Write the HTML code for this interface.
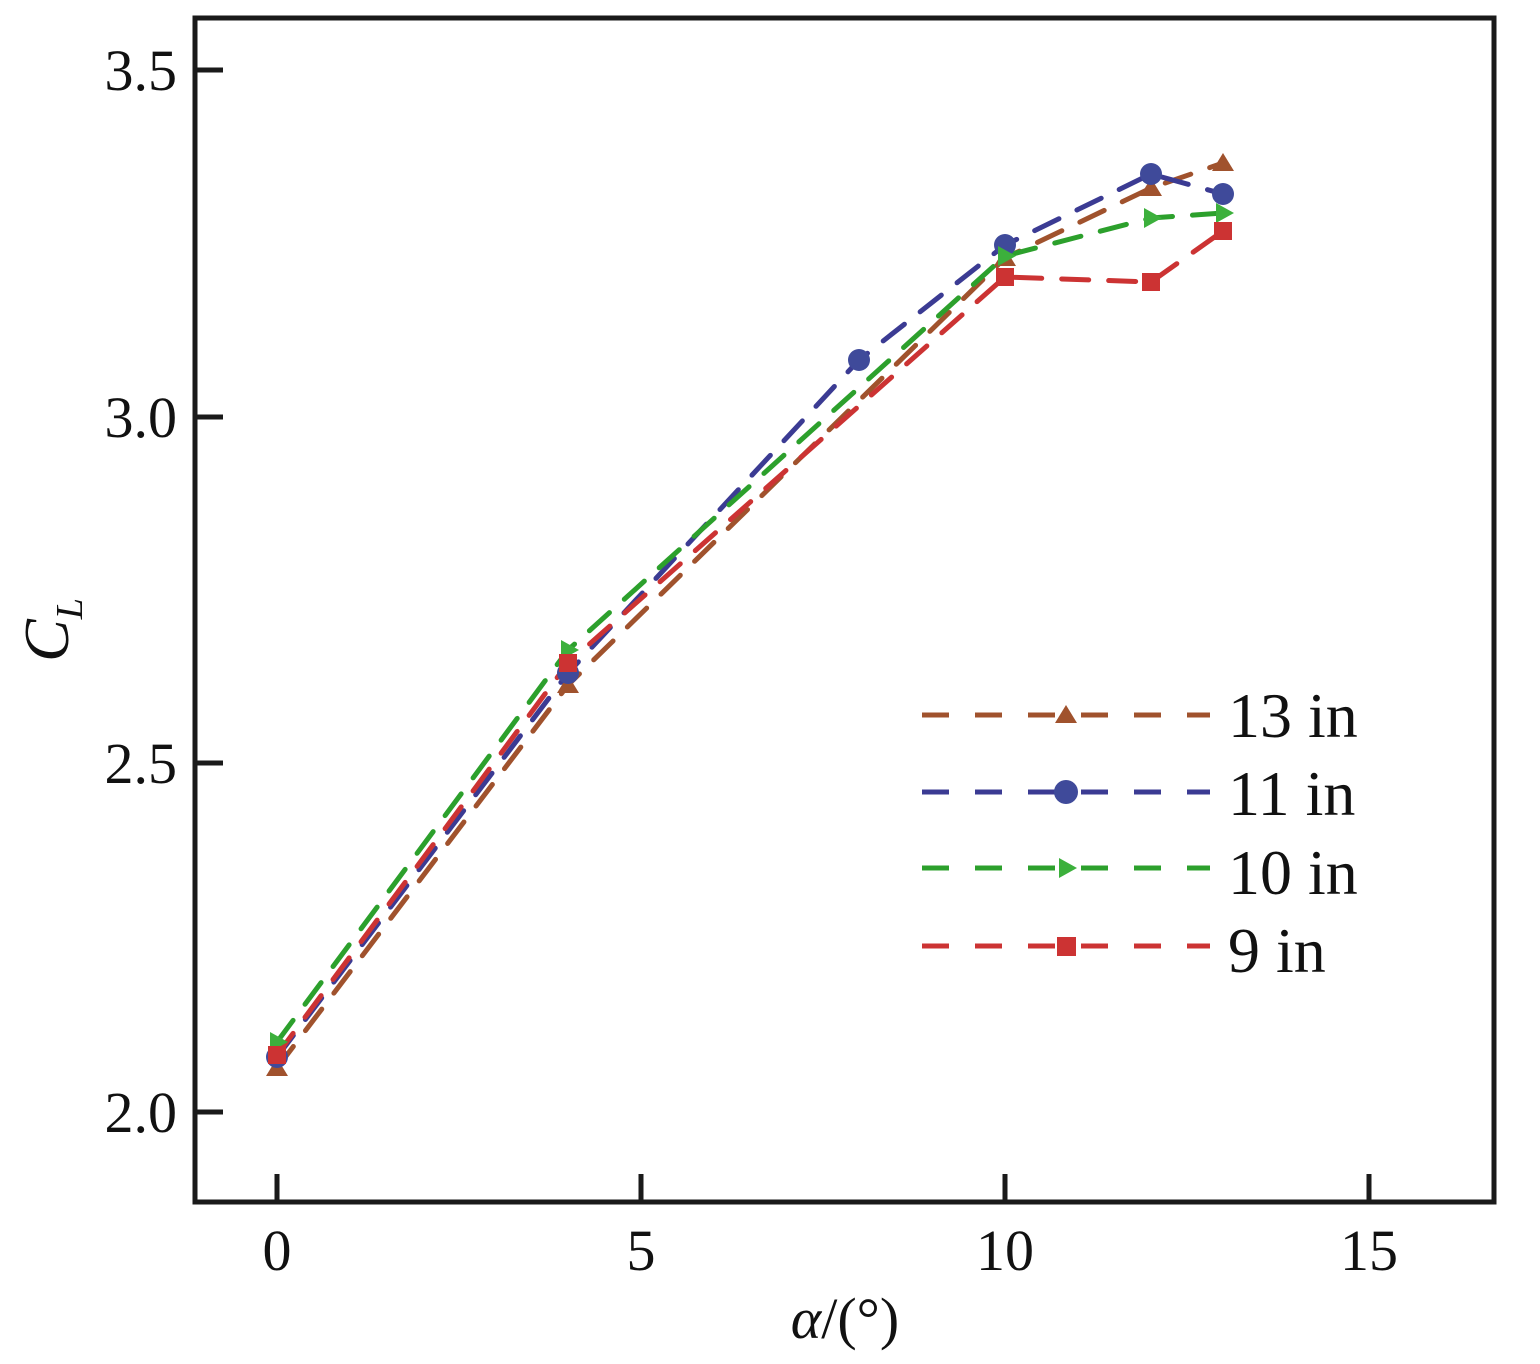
<!DOCTYPE html>
<html><head><meta charset="utf-8"><style>html,body{margin:0;padding:0;background:#fff}</style></head>
<body>
<svg width="1540" height="1359" viewBox="0 0 1540 1359" xmlns="http://www.w3.org/2000/svg" font-family="'Liberation Serif', serif">
<rect x="0" y="0" width="1540" height="1359" fill="#fff"/>
<g stroke-width="5" fill="none" stroke-dasharray="27 20" stroke-linecap="round">
<polyline stroke="#a0522d" points="277,1068 568,685 1005,258 1151,188 1223,163"/>
<polyline stroke="#3b3b93" points="277,1057 568,673 859,360 1005,245 1151,174 1223,194"/>
<polyline stroke="#2ca02c" points="277,1042 568,650 1005,256 1151,218 1223,213"/>
<polyline stroke="#cc3333" points="277,1055 568,663 1005,277 1151,282 1223,231"/>
</g>
<g fill="#a0522d">
<polygon points="277,1058 266,1076 288,1076"/><polygon points="568,675 557,693 579,693"/><polygon points="1005,248 994,266 1016,266"/><polygon points="1151,178 1140,196 1162,196"/><polygon points="1223,153 1212,171 1234,171"/>
</g>
<g fill="#3f4a9a">
<circle cx="277" cy="1057" r="11"/><circle cx="568" cy="673" r="11"/><circle cx="859" cy="360" r="11"/><circle cx="1005" cy="245" r="11"/><circle cx="1151" cy="174" r="11"/><circle cx="1223" cy="194" r="11"/>
</g>
<g fill="#3cb03c">
<polygon points="270,1032 288,1042 270,1052"/><polygon points="561,640 579,650 561,660"/><polygon points="998,246 1016,256 998,266"/><polygon points="1144,208 1162,218 1144,228"/><polygon points="1216,203 1234,213 1216,223"/>
</g>
<g fill="#cc3333">
<rect x="268" y="1046" width="18" height="18"/><rect x="559" y="654" width="18" height="18"/><rect x="996" y="268" width="18" height="18"/><rect x="1142" y="273" width="18" height="18"/><rect x="1214" y="222" width="18" height="18"/>
</g>
<rect x="195" y="18" width="1299" height="1184" fill="none" stroke="#1a1a1a" stroke-width="5"/>
<g stroke="#1a1a1a" stroke-width="5">
<line x1="195" y1="70" x2="223" y2="70"/><line x1="195" y1="417" x2="223" y2="417"/><line x1="195" y1="763" x2="223" y2="763"/><line x1="195" y1="1112" x2="223" y2="1112"/>
<line x1="277" y1="1202" x2="277" y2="1174"/><line x1="641" y1="1202" x2="641" y2="1174"/><line x1="1005" y1="1202" x2="1005" y2="1174"/><line x1="1369" y1="1202" x2="1369" y2="1174"/>
</g>
<g font-size="58" fill="#111" text-anchor="end">
<text x="177" y="90">3.5</text><text x="177" y="437">3.0</text><text x="177" y="783">2.5</text><text x="177" y="1132">2.0</text>
</g>
<g font-size="58" fill="#111" text-anchor="middle">
<text x="277" y="1270">0</text><text x="641" y="1270">5</text><text x="1005" y="1270">10</text><text x="1369" y="1270">15</text>
<text x="845" y="1338"><tspan font-style="italic">α</tspan>/(°)</text>
</g>
<text transform="translate(68,630) rotate(-90)" font-size="64" font-style="italic" fill="#111" text-anchor="middle">C<tspan font-size="38" dy="14">L</tspan></text>
<g stroke-width="5" stroke-dasharray="27 26" stroke-linecap="butt">
<line x1="922" y1="715" x2="1210" y2="715" stroke="#a0522d"/>
<line x1="922" y1="792" x2="1210" y2="792" stroke="#3b3b93"/>
<line x1="922" y1="868" x2="1210" y2="868" stroke="#2ca02c"/>
<line x1="922" y1="946" x2="1210" y2="946" stroke="#cc3333"/>
</g>
<polygon points="1066,705 1055,723 1077,723" fill="#a0522d"/>
<circle cx="1066" cy="792" r="12" fill="#3f4a9a"/>
<polygon points="1059,858 1077,868 1059,878" fill="#3cb03c"/>
<rect x="1057" y="937" width="19" height="19" fill="#cc3333"/>
<g font-size="64" fill="#111">
<text x="1228" y="737">13 in</text><text x="1228" y="815">11 in</text><text x="1228" y="894">10 in</text><text x="1228" y="972">9 in</text>
</g>
</svg>
</body></html>
